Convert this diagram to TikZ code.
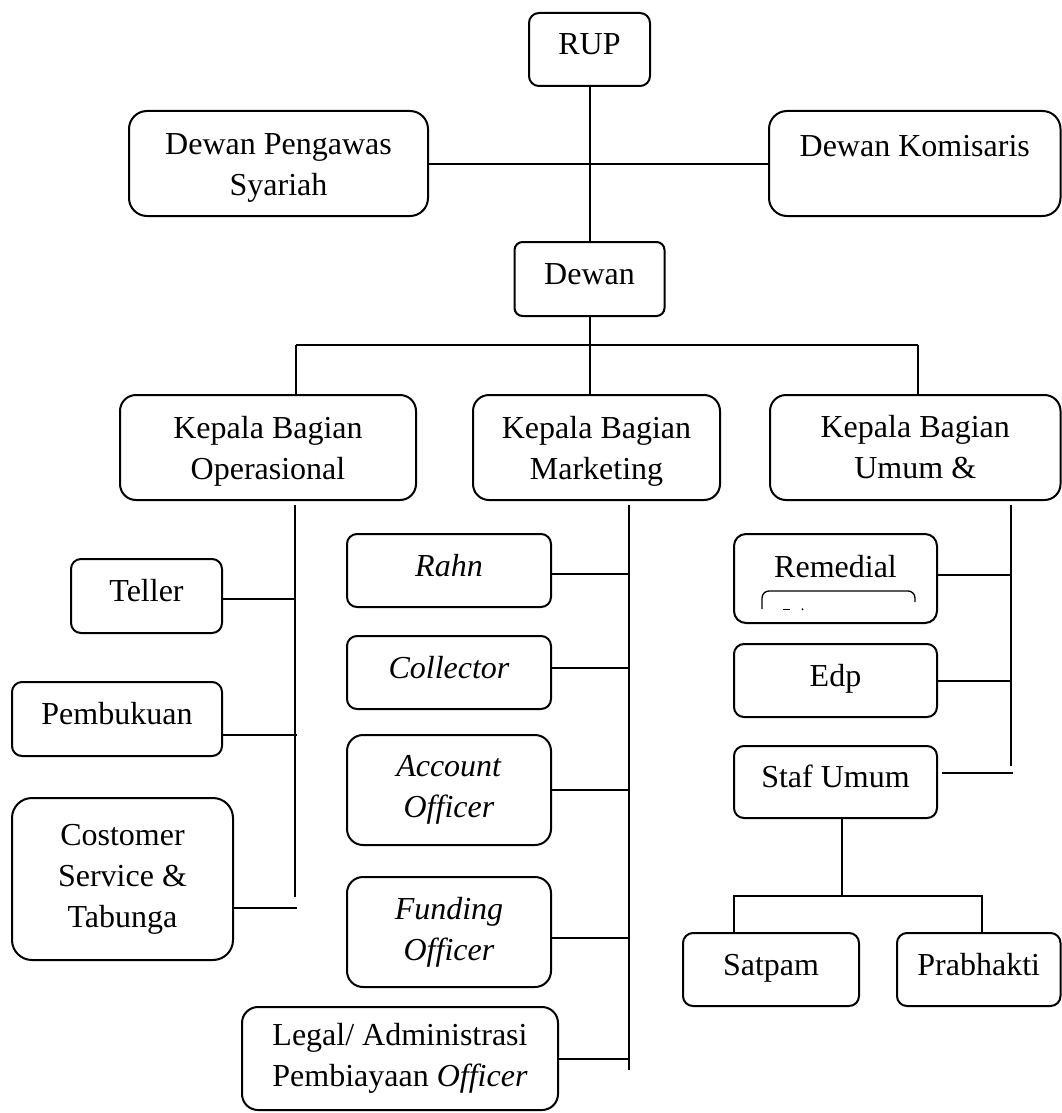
\documentclass[tikz,border=0pt]{standalone}
\usepackage{fontspec}
\setmainfont{Liberation Serif}
\newcommand\lowr{\rule{0pt}{30pt}}
\begin{document}
\begin{tikzpicture}[x=1pt,y=-1pt,line width=2pt,
  box/.style={draw,rounded corners=#1,inner sep=0pt,align=center,font=\fontsize{32}{41}\selectfont},
  box/.default=10pt,
  one/.style={text height=22pt,text depth=11pt}]
\useasboundingbox (0,0) rectangle (1062,1113);

% top level
\node[box,one,minimum width=121pt,minimum height=73pt] (rup) at (589.5,49.5) {RUP};
\node[box=18pt,minimum width=299pt,minimum height=105pt] (dps) at (278.5,163.5) {\lowr Dewan Pengawas\\Syariah};
\node[box=18pt,minimum width=291.5pt,minimum height=105pt] (dk) at (914.75,163.5) {\rule{0pt}{26pt}Dewan Komisaris\\\mbox{}};
\node[box=8pt,one,minimum width=150pt,minimum height=74pt] (dewan) at (589.5,279) {Dewan};

% heads
\node[box=16pt,minimum width=296pt,minimum height=105pt] (op) at (268,447.5) {\lowr Kepala Bagian\\Operasional};
\node[box=16pt,minimum width=247pt,minimum height=105pt] (mk) at (596.5,447.5) {\lowr Kepala Bagian\\Marketing};
\node[box=16pt,minimum width=290.5pt,minimum height=105pt] (um) at (915.25,447.5) {Kepala Bagian\\Umum \&};

% operasional
\node[box,one,minimum width=151pt,minimum height=74pt] (te) at (146.5,596) {Teller};
\node[box,one,minimum width=210pt,minimum height=74pt] (pb) at (117,719) {Pembukuan};
\node[box=20pt,minimum width=221pt,minimum height=162pt] (cs) at (122.5,879) {Costomer\\Service \&\\Tabunga};

% marketing
\node[box,one,minimum width=204pt,minimum height=73pt] (rahn) at (449,570.5) {\textit{Rahn}};
\node[box,one,minimum width=204pt,minimum height=73pt] (col) at (449,672.5) {\textit{Collector}};
\node[box=16pt,minimum width=204pt,minimum height=110pt] (ao) at (449,790) {\textit{Account}\\\textit{Officer}};
\node[box=16pt,minimum width=204pt,minimum height=110pt] (fo) at (449,932) {\textit{Funding}\\\textit{Officer}};
\node[box=16pt,minimum width=316pt,minimum height=103pt] (lg) at (400,1058.5) {Legal/ Administrasi\\Pembiayaan \textit{Officer}};

% umum
\node[box=12pt,minimum width=203pt,minimum height=89pt,text height=22pt,text depth=25pt] (rem) at (835.5,578.5) {Remedial};
\node[box,one,minimum width=203pt,minimum height=73pt] (edp) at (835.5,680.5) {Edp};
\node[box,one,minimum width=203pt,minimum height=72pt] (staf) at (835.5,782) {Staf Umum};
\node[box,one,minimum width=176pt,minimum height=73pt] (sat) at (771,969.5) {Satpam};
\node[box,one,minimum width=163.5pt,minimum height=73pt] (pra) at (978.75,969.5) {Prabhakti};

% partial inner box in Remedial
\draw[line width=1.3pt,rounded corners=7pt] (762,609) -- (762,591) -- (915,591) -- (915,602);
\draw[line width=1pt] (783,609.5) -- (790,609.5);
\draw[line width=1pt] (802,608.5) -- (803,610);

% top connectors
\draw (rup) -- (dewan);
\draw (dps) -- (dk);
\coordinate (hl) at (296,345);
\coordinate (hm) at (589.5,345);
\coordinate (hr) at (918,345);
\draw (hl) -- (hr);
\draw (dewan) -- (hm);
\draw (hl) -- (hl |- op.north);
\draw (hm) -- (hm |- mk.north);
\draw (hr) -- (hr |- um.north);

% operasional connectors
\coordinate (ot) at (295,505);
\coordinate (ob) at (295,897);
\draw (ot) -- (ob);
\coordinate (tec) at ([yshift=-3pt]te.east);
\draw (tec) -- (tec -| ot);
\coordinate (pbc) at ([yshift=-16pt]pb.east);
\draw (pbc) -- ([xshift=2pt]pbc -| ot);
\coordinate (csc) at ([yshift=-29pt]cs.east);
\draw (csc) -- ([xshift=2pt]csc -| ot);

% marketing connectors
\coordinate (mt) at (629,505);
\coordinate (mb) at (629,1070);
\draw (mt) -- (mb);
\coordinate (rac) at ([yshift=-3pt]rahn.east);
\draw (rac) -- (rac -| mt);
\coordinate (coc) at ([yshift=5pt]col.east);
\draw (coc) -- (coc -| mt);
\draw (ao.east) -- (ao.east -| mt);
\coordinate (foc) at ([yshift=-6pt]fo.east);
\draw (foc) -- (foc -| mt);
\draw (lg.east) -- (lg.east -| mt);

% umum connectors
\coordinate (ut) at (1011,505);
\coordinate (ub) at (1011,766);
\draw (ut) -- (ub);
\coordinate (rec) at ([yshift=4pt]rem.east);
\draw (rec) -- (rec -| ut);
\draw (edp.east) -- (edp.east -| ut);
\coordinate (stc) at ([yshift=9pt,xshift=4pt]staf.east);
\draw (stc) -- ([xshift=2pt]stc -| ut);

% staf umum subtree
\coordinate (sb) at (842,896);
\coordinate (sl) at (734,896);
\coordinate (sr) at (982,896);
\draw (staf.south -| sb) -- (sb);
\draw (sl |- sat.north) -- (sl) -- (sr) -- (sr |- pra.north);
\end{tikzpicture}
\end{document}
